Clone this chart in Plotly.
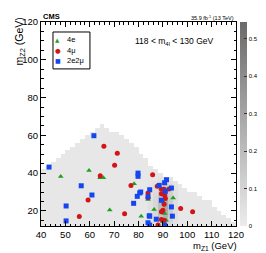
import plotly.graph_objects as go

# ---------------- data ----------------
# 2 GeV bins of mZ1 (lower edges) and the upper mZ2 edge of the filled expectation region
mz1_bin_lo = list(range(40, 120, 2))
mz2_top = [42, 44, 46, 48, 50, 52, 54, 56, 58, 60, 62, 64, 66, 64, 62, 62, 60, 58, 56, 54,
           50, 48, 44, 42, 40, 38, 38, 36, 34, 32, 30, 30, 28, 26, 26, 22, 20, 18, 16, 14]
mz2_bin_lo = list(range(12, 120, 2))
base_level = 0.02
# extra expected events around the Z peak column (per mZ1 bin) and its mZ2 profile
col_peak = [0]*22 + [0.03, 0.07, 0.18, 0.26, 0.12, 0.04] + [0]*12
row_peak = [0.5, 0.7, 0.85, 1.0, 1.0, 1.0, 0.95, 0.9, 0.8, 0.65, 0.45, 0.25, 0.12, 0.05] + [0]*40

e4_mz1 = [48.1, 59.7, 64.2, 65.6, 78.2, 68.2, 81.1, 83.9, 86.4, 90.7, 90.0, 94.2, 90.3, 91.3]
e4_mz2 = [38.2, 41.4, 37.5, 37.5, 34.4, 20.5, 17.2, 26.0, 20.7, 18.6, 14.2, 26.8, 24.7, 15.1]

mu4_mz1 = [65.8, 71.3, 70.2, 64.3, 76.9, 59.3, 55.7, 74.3, 85.8, 87.7, 89.4, 90.5, 92.5, 83.9,
           89.4, 90.7, 91.0, 97.3, 90.0, 89.4, 89.4, 90.5, 88.0, 102.2, 83.9, 90.5]
mu4_mz2 = [54.2, 50.5, 44.2, 38.6, 33.5, 25.8, 17.0, 18.5, 39.1, 33.0, 31.4, 31.4, 31.6, 29.5,
           29.1, 28.3, 26.5, 21.2, 20.4, 19.5, 15.4, 15.1, 12.5, 19.5, 27.0, 23.5]

e2mu2_mz1 = [61.7, 43.3, 79.8, 79.8, 56.5, 60.9, 80.5, 79.5, 78.0, 50.3, 50.3, 84.4, 83.9, 90.7,
             93.5, 80.9, 84.6, 83.9, 91.0, 89.4, 93.5, 84.6, 93.9, 87.3, 84.6, 90.7, 88.5, 91.5]
e2mu2_mz2 = [59.8, 43.2, 40.0, 38.3, 33.3, 28.4, 29.5, 27.7, 24.0, 22.6, 14.7, 17.4, 13.7, 34.9,
             32.1, 30.0, 31.2, 27.5, 30.4, 25.6, 22.1, 17.2, 17.2, 15.6, 12.5, 12.5, 33.5, 36.5]

x_ticks = [40, 50, 60, 70, 80, 90, 100, 110, 120]
y_ticks = [20, 40, 60, 80, 100, 120]
legend_labels = ["4e", "4\u03bc", "2e2\u03bc"]

GREEN, RED, BLUE = "#1ea01e", "#d21414", "#1446f0"

# ---------------- build heatmap grid ----------------
xc = [v + 1 for v in mz1_bin_lo]
yc = [v + 1 for v in mz2_bin_lo]
z = []
for j, ylo in enumerate(mz2_bin_lo):
    row = []
    for i, xlo in enumerate(mz1_bin_lo):
        if ylo + 2 <= mz2_top[i]:
            row.append(base_level + col_peak[i] * row_peak[j])
        else:
            row.append(None)
    z.append(row)

FONT = "Liberation Sans"
fig = go.Figure()
fig.add_trace(go.Heatmap(
    x=xc, y=yc, z=z, zmin=0, zmax=0.545,
    colorscale=[[0, "#ececec"], [1, "#6a6a6a"]],
    showscale=True, hoverinfo="skip",
    colorbar=dict(x=1.02, xanchor="left", y=0.5, yanchor="middle", len=1, lenmode="fraction",
                  thickness=7, thicknessmode="pixels", outlinewidth=0, ticks="inside",
                  ticklen=3, tickcolor="#333", dtick=0.1, tick0=0,
                  tickfont=dict(family=FONT, size=6, color="black"), xpad=0, ypad=0,
                  title=dict(text="Events / bin", side="right",
                             font=dict(family=FONT, size=7.5, color="black"))),
    showlegend=False,
))
fig.add_trace(go.Scatter(x=e4_mz1, y=e4_mz2, mode="markers", name=legend_labels[0],
                         marker=dict(symbol="triangle-up", size=5, color=GREEN), showlegend=False))
fig.add_trace(go.Scatter(x=mu4_mz1, y=mu4_mz2, mode="markers", name=legend_labels[1],
                         marker=dict(symbol="circle", size=5, color=RED), showlegend=False))
fig.add_trace(go.Scatter(x=e2mu2_mz1, y=e2mu2_mz2, mode="markers", name=legend_labels[2],
                         marker=dict(symbol="square", size=5, color=BLUE), showlegend=False))

axis_common = dict(showgrid=False, zeroline=False, showline=True, linecolor="black",
                   linewidth=1, mirror="ticks", ticks="inside", ticklen=5, tickcolor="black",
                   tickfont=dict(family=FONT, size=9.5, color="black"))
fig.update_xaxes(range=[40, 120], tickvals=x_ticks, ticktext=[str(v) for v in x_ticks],
                 minor=dict(dtick=2, tick0=40, ticks="inside", ticklen=2.5, tickcolor="black"),
                 **axis_common)
fig.update_yaxes(range=[12, 120], tickvals=y_ticks, ticktext=[str(v) for v in y_ticks],
                 minor=dict(dtick=5, tick0=0, ticks="inside", ticklen=2.5, tickcolor="black"),
                 **axis_common)

# custom compact legend (box + keys + labels)
annots = [
    dict(text="<b>CMS</b>", xref="paper", yref="paper", x=0, y=1, xanchor="left",
         yanchor="bottom", showarrow=False, font=dict(size=7.5), yshift=-1),
    dict(text="35.9 fb<sup>-1</sup> (13 TeV)", xref="paper", yref="paper", x=1, y=1,
         xanchor="right", yanchor="bottom", showarrow=False, font=dict(size=5.5), yshift=-1),
    dict(text="118 &lt; m<sub>4l</sub> &lt; 130 GeV", xref="paper", yref="paper",
         x=0.47, y=0.905, xanchor="left", yanchor="middle", showarrow=False,
         font=dict(size=8.5)),
    dict(text="m<sub>Z1</sub> (GeV)", xref="paper", yref="paper", x=1.01, y=-0.066,
         xanchor="right", yanchor="top", showarrow=False, font=dict(size=9.5), borderpad=0),
    dict(text="m<sub>Z2</sub> (GeV)", xref="paper", yref="paper", x=-0.11, y=1.03,
         xanchor="center", yanchor="top", textangle=-90, showarrow=False,
         font=dict(size=10.5)),
]
key_syms = ["\u25b2", "\u25cf", "\u25a0"]
key_cols = [GREEN, RED, BLUE]
key_sizes = [5.5, 6.5, 6]
row_y = [0.912, 0.86, 0.81]
for lab, sym, col, sz, yy in zip(legend_labels, key_syms, key_cols, key_sizes, row_y):
    annots.append(dict(text=sym, xref="paper", yref="paper", x=0.087, y=yy, xanchor="center",
                       yanchor="middle", showarrow=False,
                       font=dict(size=sz, color=col, family="DejaVu Sans")))
    annots.append(dict(text=lab, xref="paper", yref="paper", x=0.123, y=yy, xanchor="left",
                       yanchor="middle", showarrow=False, font=dict(size=7.5)))

fig.update_layout(
    width=266, height=253,
    margin=dict(l=33, r=38, t=14, b=35, autoexpand=False),
    paper_bgcolor="white", plot_bgcolor="white",
    font=dict(family=FONT, color="black"),
    showlegend=False,
    annotations=annots,
    shapes=[dict(type="rect", xref="paper", yref="paper", x0=0.0615, x1=0.251,
                 y0=0.77, y1=0.951, line=dict(color="black", width=1), fillcolor="white",
                 layer="above")],
)

fig.write_html("out.html")
